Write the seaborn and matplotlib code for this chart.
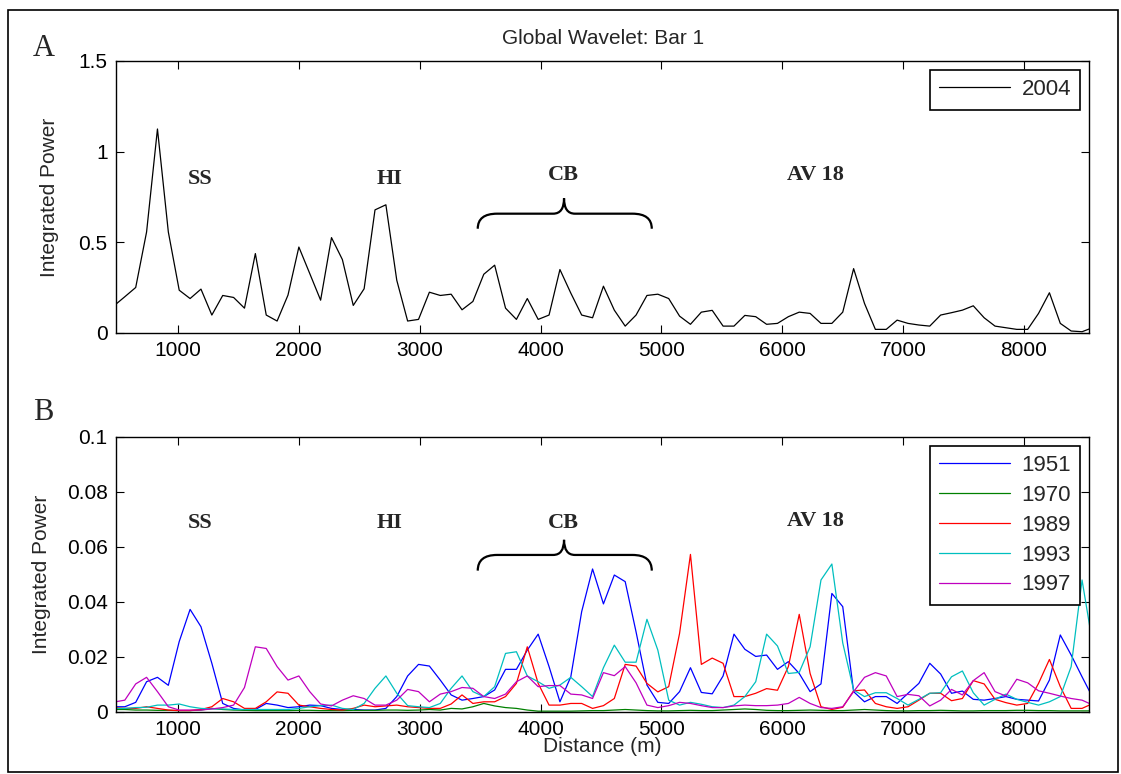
import numpy as np
import pandas as pd
import matplotlib
matplotlib.use("Agg")
import matplotlib.pyplot as plt
import seaborn as sns
from matplotlib.path import Path
from matplotlib.patches import PathPatch, Rectangle

# ---------------- data ----------------
distance_start_m = 470
distance_step_m = 90

power_2004 = [0.15, 0.20, 0.251, 0.557, 1.125, 0.557, 0.236, 0.19, 0.242, 0.099,
              0.207, 0.196, 0.137, 0.438, 0.099, 0.066, 0.209, 0.474, 0.328, 0.181,
              0.526, 0.405, 0.152, 0.244, 0.679, 0.707, 0.291, 0.066, 0.075, 0.225,
              0.207, 0.214, 0.128, 0.174, 0.324, 0.374, 0.137, 0.075, 0.19, 0.075,
              0.099, 0.35, 0.22, 0.099, 0.084, 0.258, 0.126, 0.038, 0.099, 0.207,
              0.214, 0.19, 0.093, 0.048, 0.115, 0.125, 0.038, 0.038, 0.097, 0.09,
              0.048, 0.053, 0.09, 0.115, 0.108, 0.053, 0.053, 0.115, 0.355, 0.163,
              0.02, 0.02, 0.071, 0.053, 0.044, 0.038, 0.099, 0.112, 0.126, 0.15,
              0.084, 0.038, 0.029, 0.02, 0.02, 0.108, 0.222, 0.053, 0.011, 0.007,
              0.03]

power_1951 = [0.0018, 0.0018, 0.0034, 0.0109, 0.0125, 0.0096, 0.0255, 0.0372, 0.0309, 0.0176,
              0.003, 0.0012, 0.0006, 0.0008, 0.003, 0.0024, 0.0015, 0.0018, 0.0024, 0.0022,
              0.0012, 0.0008, 0.0008, 0.0006, 0.0006, 0.0012, 0.0055, 0.013, 0.0172, 0.0166,
              0.0115, 0.0061, 0.0042, 0.0048, 0.0055, 0.0079, 0.0154, 0.0154, 0.0224, 0.0282,
              0.0164, 0.0036, 0.0127, 0.0364, 0.0519, 0.0392, 0.0497, 0.0473, 0.029, 0.0097,
              0.0034, 0.003, 0.0073, 0.016, 0.007, 0.0065, 0.013, 0.0282, 0.0227, 0.0201,
              0.0206, 0.0154, 0.0182, 0.0139, 0.0073, 0.0101, 0.043, 0.0382, 0.0073, 0.0036,
              0.0055, 0.0055, 0.003, 0.0067, 0.0103, 0.0176, 0.0137, 0.0067, 0.0075, 0.0045,
              0.0042, 0.0048, 0.0055, 0.0045, 0.0042, 0.0039, 0.0115, 0.0279, 0.0206, 0.0127,
              0.005]

power_1970 = [0.0008, 0.0008, 0.0006, 0.0006, 0.0005, 0.0005, 0.0004, 0.0004, 0.0006, 0.0012,
              0.0008, 0.0006, 0.0005, 0.0004, 0.0004, 0.0004, 0.0004, 0.0005, 0.0005, 0.0004,
              0.0004, 0.0004, 0.0005, 0.0005, 0.0005, 0.0006, 0.0006, 0.0005, 0.0006, 0.0008,
              0.0006, 0.0012, 0.001, 0.0018, 0.003, 0.0021, 0.0015, 0.0012, 0.0006, 0.0002,
              0.0002, 0.0002, 0.0002, 0.0003, 0.0004, 0.0004, 0.0006, 0.0008, 0.0006, 0.0004,
              0.0003, 0.0003, 0.0004, 0.0005, 0.0004, 0.0004, 0.0006, 0.0008, 0.001, 0.0008,
              0.0005, 0.0004, 0.0004, 0.0005, 0.0006, 0.0005, 0.0004, 0.0004, 0.0006, 0.0008,
              0.0006, 0.0004, 0.0003, 0.0003, 0.0004, 0.0004, 0.0005, 0.0004, 0.0003, 0.0003,
              0.0004, 0.0004, 0.0004, 0.0005, 0.0005, 0.0004, 0.0004, 0.0003, 0.0003, 0.0003,
              0.0003]

power_1989 = [0.0015, 0.0012, 0.0012, 0.0018, 0.0012, 0.0006, 0.0004, 0.0004, 0.0008, 0.0018,
              0.0048, 0.0036, 0.0012, 0.0012, 0.0036, 0.0072, 0.0067, 0.0024, 0.0018, 0.0012,
              0.0008, 0.0006, 0.0012, 0.0024, 0.0018, 0.0021, 0.0024, 0.0018, 0.0015, 0.0012,
              0.0012, 0.0028, 0.0061, 0.003, 0.0036, 0.0036, 0.0055, 0.0103, 0.0236, 0.0103,
              0.0024, 0.0024, 0.003, 0.003, 0.0012, 0.0022, 0.0048, 0.0172, 0.0166, 0.0103,
              0.0072, 0.0091, 0.0285, 0.0572, 0.0172, 0.0195, 0.0176, 0.0055, 0.0055, 0.0067,
              0.0084, 0.0078, 0.0164, 0.0354, 0.0139, 0.0018, 0.0008, 0.0016, 0.0076, 0.0079,
              0.003, 0.0018, 0.0012, 0.0018, 0.0042, 0.0067, 0.0067, 0.004, 0.0048, 0.0113,
              0.0101, 0.0045, 0.0033, 0.0024, 0.003, 0.0103, 0.019, 0.0091, 0.0012, 0.0012,
              0.003]

power_1993 = [0.0012, 0.0012, 0.0015, 0.0016, 0.0024, 0.0024, 0.0028, 0.0018, 0.0012, 0.001,
              0.001, 0.0008, 0.0008, 0.0008, 0.0008, 0.0008, 0.0008, 0.0012, 0.0018, 0.0022,
              0.0024, 0.0012, 0.0008, 0.003, 0.0085, 0.013, 0.0067, 0.0022, 0.0018, 0.0015,
              0.003, 0.0085, 0.013, 0.0073, 0.0055, 0.0091, 0.0212, 0.0218, 0.013, 0.0109,
              0.0085, 0.0097, 0.0125, 0.0091, 0.0055, 0.016, 0.0242, 0.018, 0.018, 0.0336,
              0.0224, 0.0042, 0.0024, 0.0034, 0.0027, 0.0018, 0.0015, 0.0024, 0.0055, 0.0109,
              0.0282, 0.0239, 0.0139, 0.0143, 0.0236, 0.0479, 0.0537, 0.025, 0.0079, 0.0055,
              0.0069, 0.0069, 0.0048, 0.0024, 0.0045, 0.0067, 0.0069, 0.0127, 0.0148, 0.0069,
              0.0024, 0.0045, 0.0064, 0.0045, 0.0034, 0.0024, 0.0036, 0.0055, 0.0164, 0.0479,
              0.024]

power_1997 = [0.0035, 0.0042, 0.0101, 0.0125, 0.0073, 0.0018, 0.0006, 0.0006, 0.0006, 0.001,
              0.0015, 0.0024, 0.0088, 0.0236, 0.023, 0.0164, 0.0115, 0.013, 0.0073, 0.0028,
              0.0021, 0.0042, 0.0058, 0.0048, 0.0024, 0.0024, 0.0042, 0.0081, 0.0073, 0.0036,
              0.0064, 0.0073, 0.0088, 0.0085, 0.0055, 0.0048, 0.0064, 0.0109, 0.013, 0.0091,
              0.0095, 0.0095, 0.0064, 0.0061, 0.0048, 0.0142, 0.0131, 0.0164, 0.0105, 0.0024,
              0.0015, 0.0022, 0.0034, 0.003, 0.0022, 0.0015, 0.0015, 0.0021, 0.0024, 0.0022,
              0.0022, 0.0024, 0.003, 0.0052, 0.003, 0.0015, 0.0012, 0.0018, 0.0073, 0.0125,
              0.0142, 0.013, 0.0055, 0.0063, 0.0058, 0.0021, 0.0042, 0.0081, 0.0061, 0.0113,
              0.0142, 0.0073, 0.0057, 0.0118, 0.0105, 0.0076, 0.0067, 0.0057, 0.0048, 0.0042,
              0.0024]

bottom_years = ["1951", "1970", "1989", "1993", "1997"]
bottom_series = [power_1951, power_1970, power_1989, power_1993, power_1997]
bottom_colors = ["#0000ff", "#008000", "#ff0000", "#00bfbf", "#bf00bf"]

x_ticks = [1000, 2000, 3000, 4000, 5000, 6000, 7000, 8000]
top_yticks = [0, 0.5, 1, 1.5]
top_yticklabels = ["0", "0.5", "1", "1.5"]
bottom_yticks = [0, 0.02, 0.04, 0.06, 0.08, 0.1]
bottom_yticklabels = ["0", "0.02", "0.04", "0.06", "0.08", "0.1"]

region_names = ["SS", "HI", "CB", "AV 18"]

# ---------------- style ----------------
sns.set_style("ticks")
plt.rcParams["font.family"] = ["Liberation Sans", "DejaVu Sans"]
SERIF = ["Liberation Serif", "DejaVu Serif"]

W, H = 1121, 774
fig = plt.figure(figsize=(W / 100, H / 100), dpi=100)
fig.patch.set_facecolor("white")

ax_l, ax_r = 116, 1089.3
ax1 = fig.add_axes([ax_l / W, 1 - 333 / H, (ax_r - ax_l) / W, 272 / H])
ax2 = fig.add_axes([ax_l / W, 1 - 711.7 / H, (ax_r - ax_l) / W, 275 / H])

n = len(power_2004)
distance = distance_start_m + distance_step_m * np.arange(n)

# top panel
df_top = pd.DataFrame({"Distance (m)": distance, "Integrated Power": power_2004})
sns.lineplot(data=df_top, x="Distance (m)", y="Integrated Power", color="black",
             linewidth=0.9, label="2004", ax=ax1)

# bottom panel
for year, vals, col in zip(bottom_years, bottom_series, bottom_colors):
    d = pd.DataFrame({"Distance (m)": distance, "Integrated Power": vals})
    sns.lineplot(data=d, x="Distance (m)", y="Integrated Power", color=col,
                 linewidth=0.9, label=year, ax=ax2)

xlim = (487, 8540)
for ax, yt, ytl, ylim in [(ax1, top_yticks, top_yticklabels, (0, 1.5)),
                          (ax2, bottom_yticks, bottom_yticklabels, (0, 0.1))]:
    ax.set_xlim(*xlim)
    ax.set_ylim(*ylim)
    ax.set_xticks(x_ticks)
    ax.set_xticklabels([str(t) for t in x_ticks])
    ax.set_yticks(yt)
    ax.set_yticklabels(ytl)
    ax.tick_params(direction="in", top=True, right=True, length=6, width=0.8,
                   labelsize=15, pad=6, colors="black")
    for s in ax.spines.values():
        s.set_color("black")
        s.set_linewidth(1.0)
        s.set_visible(True)
    ax.grid(False)
    ax.set_ylabel("Integrated Power", fontsize=15)

ax1.set_xlabel("")
ax1.yaxis.set_label_coords(-0.059, 0.5)
ax2.yaxis.set_label_coords(-0.067, 0.5)
ax2.set_xlabel("Distance (m)", fontsize=15)
ax2.xaxis.set_label_coords(0.5, -0.092)

ax1.set_title("Global Wavelet: Bar 1", fontsize=15, pad=12)

leg_kw = dict(loc="upper right", frameon=True, fancybox=False, framealpha=1,
              edgecolor="black", fontsize=16, handlelength=3.2, handletextpad=0.5,
              borderaxespad=0.4, borderpad=0.42)
l1 = ax1.legend(**leg_kw)
l2 = ax2.legend(labelspacing=0.4, **leg_kw)
for lg in (l1, l2):
    lg.get_frame().set_linewidth(1.2)
    for line in lg.get_lines():
        line.set_linewidth(0.9)


def draw_brace(ax, x0, x1, xm, y_end, y_bar, y_tip, rx, rxm):
    verts = [(x0, y_end), (x0, y_bar), (x0 + rx, y_bar),
             (xm - rxm, y_bar), (xm, y_bar), (xm, y_tip),
             (xm, y_bar), (xm + rxm, y_bar),
             (x1 - rx, y_bar), (x1, y_bar), (x1, y_end)]
    codes = [Path.MOVETO, Path.CURVE3, Path.CURVE3,
             Path.LINETO, Path.CURVE3, Path.CURVE3,
             Path.CURVE3, Path.CURVE3,
             Path.LINETO, Path.CURVE3, Path.CURVE3]
    ax.add_patch(PathPatch(Path(verts, codes), facecolor="none",
                           edgecolor="black", linewidth=1.6, capstyle="butt"))


# region annotations
top_label_pos = [(1182, 0.85), (2754, 0.85), (4186, 0.87), (6270, 0.87)]
bot_label_pos = [(1182, 0.0686), (2754, 0.0686), (4186, 0.0686), (6270, 0.0695)]
for name, (x, y) in zip(region_names, top_label_pos):
    ax1.text(x, y, name, family=SERIF, fontweight="bold", fontsize=16,
             ha="center", va="center")
for name, (x, y) in zip(region_names, bot_label_pos):
    ax2.text(x, y, name, family=SERIF, fontweight="bold", fontsize=16,
             ha="center", va="center")

draw_brace(ax1, 3480, 4920, 4194, 0.575, 0.658, 0.743, 160, 90)
draw_brace(ax2, 3480, 4920, 4194, 0.0513, 0.0570, 0.0625, 160, 90)

# panel letters
fig.text(44 / W, 1 - 49 / H, "A", family=SERIF, fontsize=22, ha="center", va="center")
fig.text(43 / W, 1 - 412 / H, "B", family=SERIF, fontsize=22, ha="center", va="center")

# outer frame
fig.patches.append(Rectangle((8 / W, 2 / H), 1110 / W, 762 / H, transform=fig.transFigure,
                             fill=False, edgecolor="black", linewidth=1.2))

fig.savefig("out.png", dpi=100, facecolor="white")
